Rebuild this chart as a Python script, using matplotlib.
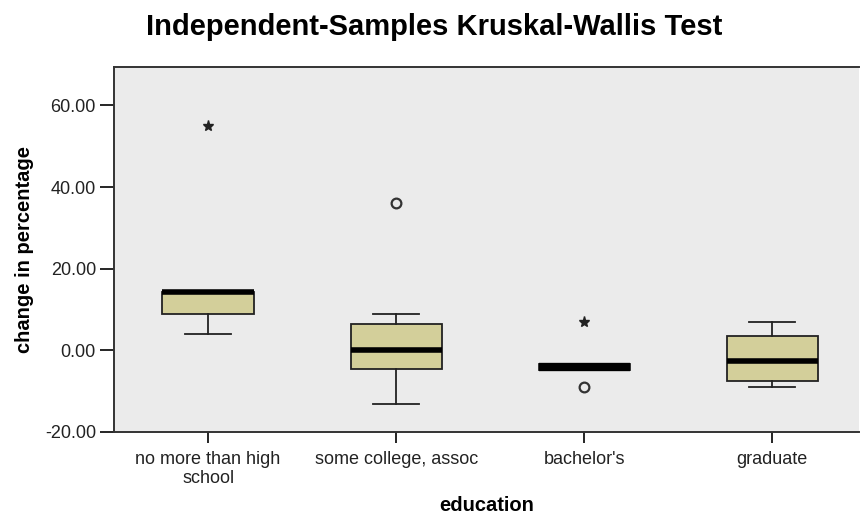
import numpy as np
import matplotlib.pyplot as plt

### DATA

categories = ['no more than high\nschool', 'some college, assoc', "bachelor's", 'graduate']
medians = [14.3, 0.2, -4.1, -2.7]
q1 = [8.8, -4.6, -4.9, -7.4]
q3 = [14.3, 6.5, -3.4, 3.4]
whis_lo = [3.9, -13.2, -4.9, -9.1]
whis_hi = [14.3, 8.8, -3.4, 7.0]
circle_pts = [[], [36.0], [-9.1], []]   # outliers
star_pts = [[55.0], [], [6.9], []]      # extremes

### PLOT

plt.rcParams['font.family'] = ['Liberation Sans', 'DejaVu Sans']

fig = plt.figure(figsize=(8.6, 5.16), dpi=100)
ax = fig.add_axes([0.1326, 0.1628, 0.866, 0.7074])
ax.set_facecolor('#EBEBEB')

stats = []
for i in range(len(categories)):
    stats.append({'med': medians[i], 'q1': q1[i], 'q3': q3[i],
                  'whislo': whis_lo[i], 'whishi': whis_hi[i], 'fliers': []})

pos = np.arange(1, len(categories) + 1)
bp = ax.bxp(stats, positions=pos, widths=0.485, patch_artist=True, showfliers=False,
            boxprops=dict(facecolor='#D3CF9A', edgecolor='#222222', linewidth=1.3),
            medianprops=dict(color='black', linewidth=4, solid_capstyle='butt'),
            whiskerprops=dict(color='#222222', linewidth=1.3),
            capprops=dict(color='#222222', linewidth=1.3),
            capwidths=0.245)
bp['medians'][2].set_linewidth(6)  # collapsed box draws as one solid bar

for i in range(len(categories)):
    if circle_pts[i]:
        ax.plot([pos[i]] * len(circle_pts[i]), circle_pts[i], 'o', mfc='none',
                mec='#333333', mew=1.6, ms=7)
    if star_pts[i]:
        ax.plot([pos[i]] * len(star_pts[i]), star_pts[i], '*', color='#222222', ms=8)

ax.set_xlim(0.5, 4.46)
ax.set_ylim(-20, 69.4)
ax.set_yticks([-20, 0, 20, 40, 60])
ax.set_yticklabels(['%.2f' % v for v in [-20, 0, 20, 40, 60]])
ax.set_xticks(pos)
ax.set_xticklabels(categories, linespacing=1.15)
ax.tick_params(axis='both', labelsize=13, colors='black', length=8, width=1.2)
ax.tick_params(axis='y', length=10, pad=3)
ax.tick_params(axis='x', pad=6)
for lbl in ax.get_xticklabels() + ax.get_yticklabels():
    lbl.set_color('#222222')

for side in ['left', 'bottom', 'top']:
    ax.spines[side].set_linewidth(1.4)
    ax.spines[side].set_color('#333333')
ax.spines['right'].set_visible(False)

ax.set_xlabel('education', fontsize=14.5, fontweight='bold', labelpad=6)
ax.set_ylabel('change in percentage', fontsize=14.5, fontweight='bold', labelpad=8)
fig.text(0.505, 0.948, 'Independent-Samples Kruskal-Wallis Test', ha='center', va='center',
         fontsize=21, fontweight='bold')

plt.savefig('out.png', dpi=100)
